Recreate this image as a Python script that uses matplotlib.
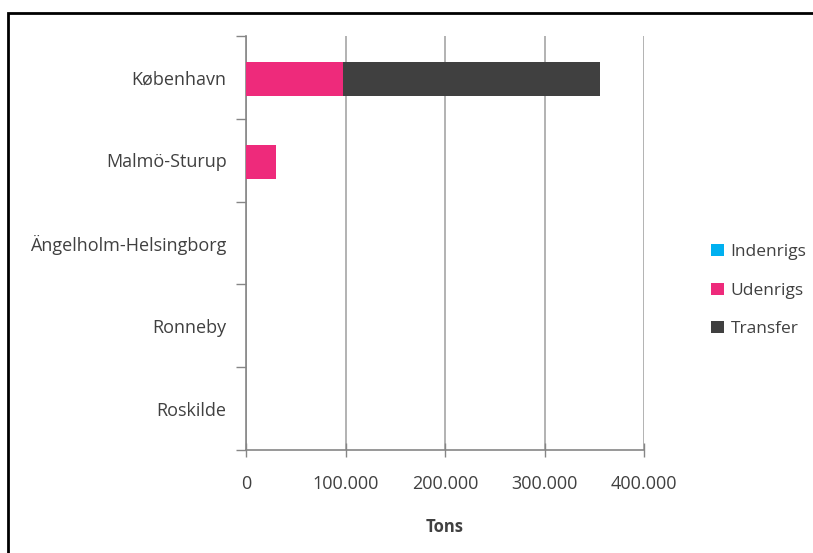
import numpy as np
import matplotlib
matplotlib.use('Agg')
import matplotlib.pyplot as plt
from matplotlib.patches import Rectangle, Patch

# ---------------------------------------------------------------------------
# Data (tons)
# ---------------------------------------------------------------------------

airports = ['København', 'Malmö-Sturup', 'Ängelholm-Helsingborg', 'Ronneby', 'Roskilde']
indenrigs = [0, 0, 0, 0, 0]
udenrigs = [97500, 30000, 0, 0, 0]
transfer = [258500, 0, 0, 0, 0]

series_names = ['Indenrigs', 'Udenrigs', 'Transfer']
colors = ['#00B0F0', '#EE2A7B', '#404040']
xticks = [0, 100000, 200000, 300000, 400000]
xtick_labels = ['0', '100.000', '200.000', '300.000', '400.000']

# ---------------------------------------------------------------------------
# Plot
# ---------------------------------------------------------------------------

plt.rcParams['font.family'] = ['Open Sans', 'DejaVu Sans']
text_color = '#404040'

fig = plt.figure(figsize=(8.13, 5.53), dpi=100)
ax = fig.add_axes([246 / 813, 1 - 450 / 553, 398 / 813, 414 / 553])

# outer frame, cut off at right and bottom like the screenshot
fig.patches.append(Rectangle((7.5 / 813, -0.5), 2, 1.5 - 13 / 553,
                             transform=fig.transFigure, fill=False,
                             edgecolor='black', linewidth=2, zorder=0))

y = np.arange(len(airports))
left = np.zeros(len(airports))
for name, vals, col in zip(series_names, [indenrigs, udenrigs, transfer], colors):
    ax.barh(y + 0.02, vals, left=left, height=0.41, color=col, label=name, zorder=3)
    left += np.array(vals)

ax.set_ylim(len(airports) - 0.5, -0.5)
ax.set_xlim(0, 400000)

ax.set_yticks(y)
ax.set_yticklabels(airports, fontsize=13, color=text_color)
ax.set_yticks(np.arange(-0.5, len(airports)), minor=True)
ax.tick_params(axis='y', which='major', length=0, pad=14)
ax.tick_params(axis='y', which='minor', length=7, color='#868686', width=1)

ax.set_xticks(xticks)
ax.set_xticklabels(xtick_labels, fontsize=13, color=text_color)
ax.tick_params(axis='x', direction='inout', length=10, color='#868686',
               width=1, pad=13)
ax.grid(axis='x', color='#A6A6A6', linewidth=1.2, zorder=0)

for s in ['top', 'right']:
    ax.spines[s].set_visible(False)
for s in ['left', 'bottom']:
    ax.spines[s].set_color('#868686')
    ax.spines[s].set_linewidth(1.2)

ax.set_xlabel('Tons', fontsize=12, fontweight='bold', color=text_color, labelpad=18)

handles = [Patch(facecolor=c, edgecolor='none') for c in colors]
ax.legend(handles, series_names, loc='center left', bbox_to_anchor=(1.13, 0.385),
          frameon=False, fontsize=12.5, labelcolor=text_color,
          handlelength=0.7, handleheight=0.7, handletextpad=0.4, labelspacing=1.3)

fig.savefig('out.png', dpi=100)
